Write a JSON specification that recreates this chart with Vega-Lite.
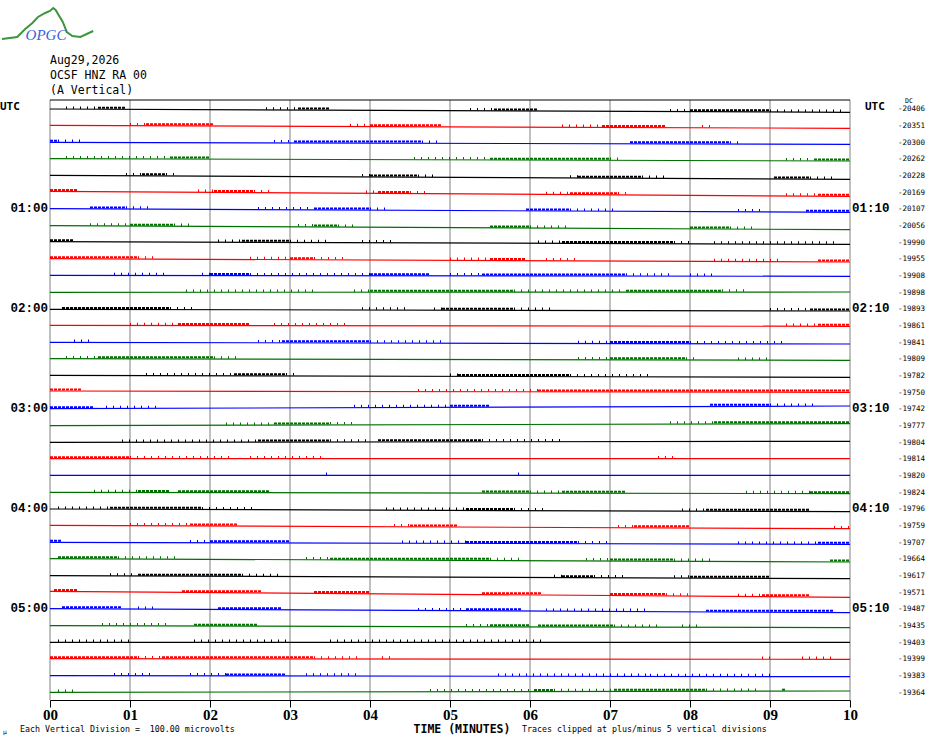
{
  "$schema": "https://vega.github.io/schema/vega-lite/v6.json",
  "width": 800,
  "height": 600,
  "autosize": "none",
  "padding": {"left": 50, "top": 100, "right": 80, "bottom": 44},
  "background": "white",
  "data": {"values": [{"one": 1}]},
  "datasets": {
    "minutes": [
      {"m": 0}, {"m": 1}, {"m": 2}, {"m": 3}, {"m": 4}, {"m": 5},
      {"m": 6}, {"m": 7}, {"m": 8}, {"m": 9}, {"m": 10}
    ],
    "logo": [
      {"i": 0, "x": -0.6, "y": -4.16},
      {"i": 1, "x": -0.41, "y": -4.28},
      {"i": 2, "x": -0.31, "y": -4.76},
      {"i": 3, "x": -0.22, "y": -5.12},
      {"i": 4, "x": -0.15, "y": -5.48},
      {"i": 5, "x": -0.06, "y": -5.72},
      {"i": 6, "x": 0.0, "y": -5.84},
      {"i": 7, "x": 0.04, "y": -6.02},
      {"i": 8, "x": 0.07, "y": -5.9},
      {"i": 9, "x": 0.16, "y": -5.18},
      {"i": 10, "x": 0.21, "y": -4.58},
      {"i": 11, "x": 0.28, "y": -4.34},
      {"i": 12, "x": 0.38, "y": -4.28},
      {"i": 13, "x": 0.54, "y": -4.64}
    ],
    "traces": [
      {"r": 0, "c": "k", "v": "-20406"},
      {"r": 1, "c": "r", "v": "-20351"},
      {"r": 2, "c": "b", "v": "-20300"},
      {"r": 3, "c": "g", "v": "-20262"},
      {"r": 4, "c": "k", "v": "-20228"},
      {"r": 5, "c": "r", "v": "-20169"},
      {"r": 6, "c": "b", "v": "-20107", "lh": "01:00", "rh": "01:10"},
      {"r": 7, "c": "g", "v": "-20056"},
      {"r": 8, "c": "k", "v": "-19990"},
      {"r": 9, "c": "r", "v": "-19955"},
      {"r": 10, "c": "b", "v": "-19908"},
      {"r": 11, "c": "g", "v": "-19898"},
      {"r": 12, "c": "k", "v": "-19893", "lh": "02:00", "rh": "02:10"},
      {"r": 13, "c": "r", "v": "-19861"},
      {"r": 14, "c": "b", "v": "-19841"},
      {"r": 15, "c": "g", "v": "-19809"},
      {"r": 16, "c": "k", "v": "-19782"},
      {"r": 17, "c": "r", "v": "-19750"},
      {"r": 18, "c": "b", "v": "-19742", "lh": "03:00", "rh": "03:10"},
      {"r": 19, "c": "g", "v": "-19777"},
      {"r": 20, "c": "k", "v": "-19804"},
      {"r": 21, "c": "r", "v": "-19814"},
      {"r": 22, "c": "b", "v": "-19820"},
      {"r": 23, "c": "g", "v": "-19824"},
      {"r": 24, "c": "k", "v": "-19796", "lh": "04:00", "rh": "04:10"},
      {"r": 25, "c": "r", "v": "-19759"},
      {"r": 26, "c": "b", "v": "-19707"},
      {"r": 27, "c": "g", "v": "-19664"},
      {"r": 28, "c": "k", "v": "-19617"},
      {"r": 29, "c": "r", "v": "-19571"},
      {"r": 30, "c": "b", "v": "-19487", "lh": "05:00", "rh": "05:10"},
      {"r": 31, "c": "g", "v": "-19435"},
      {"r": 32, "c": "k", "v": "-19403"},
      {"r": 33, "c": "r", "v": "-19399"},
      {"r": 34, "c": "b", "v": "-19383"},
      {"r": 35, "c": "g", "v": "-19364"}
    ],
    "ends": [
      {"r": 0, "c": "k", "t": 0, "lv": 0.04}, {"r": 0, "c": "k", "t": 10, "lv": 0.24},
      {"r": 1, "c": "r", "t": 0, "lv": 1.02}, {"r": 1, "c": "r", "t": 10, "lv": 1.2},
      {"r": 2, "c": "b", "t": 0, "lv": 2.04}, {"r": 2, "c": "b", "t": 10, "lv": 2.16},
      {"r": 3, "c": "g", "t": 0, "lv": 3.02}, {"r": 3, "c": "g", "t": 10, "lv": 3.16},
      {"r": 4, "c": "k", "t": 0, "lv": 4.02}, {"r": 4, "c": "k", "t": 10, "lv": 4.26},
      {"r": 5, "c": "r", "t": 0, "lv": 4.98}, {"r": 5, "c": "r", "t": 10, "lv": 5.28},
      {"r": 6, "c": "b", "t": 0, "lv": 6.02}, {"r": 6, "c": "b", "t": 10, "lv": 6.24},
      {"r": 7, "c": "g", "t": 0, "lv": 7.04}, {"r": 7, "c": "g", "t": 10, "lv": 7.28},
      {"r": 8, "c": "k", "t": 0, "lv": 8.0}, {"r": 8, "c": "k", "t": 10, "lv": 8.16},
      {"r": 9, "c": "r", "t": 0, "lv": 9.02}, {"r": 9, "c": "r", "t": 10, "lv": 9.22},
      {"r": 10, "c": "b", "t": 0, "lv": 10.02}, {"r": 10, "c": "b", "t": 10, "lv": 10.08},
      {"r": 11, "c": "g", "t": 0, "lv": 11.04}, {"r": 11, "c": "g", "t": 10, "lv": 11.02},
      {"r": 12, "c": "k", "t": 0, "lv": 12.06}, {"r": 12, "c": "k", "t": 10, "lv": 12.16},
      {"r": 13, "c": "r", "t": 0, "lv": 13.02}, {"r": 13, "c": "r", "t": 10, "lv": 13.08},
      {"r": 14, "c": "b", "t": 0, "lv": 14.04}, {"r": 14, "c": "b", "t": 10, "lv": 14.14},
      {"r": 15, "c": "g", "t": 0, "lv": 15.02}, {"r": 15, "c": "g", "t": 10, "lv": 15.12},
      {"r": 16, "c": "k", "t": 0, "lv": 16.02}, {"r": 16, "c": "k", "t": 10, "lv": 16.14},
      {"r": 17, "c": "r", "t": 0, "lv": 16.96}, {"r": 17, "c": "r", "t": 10, "lv": 17.04},
      {"r": 18, "c": "b", "t": 0, "lv": 18.02}, {"r": 18, "c": "b", "t": 10, "lv": 17.86},
      {"r": 19, "c": "g", "t": 0, "lv": 19.04}, {"r": 19, "c": "g", "t": 10, "lv": 18.92},
      {"r": 20, "c": "k", "t": 0, "lv": 20.04}, {"r": 20, "c": "k", "t": 10, "lv": 19.98},
      {"r": 21, "c": "r", "t": 0, "lv": 21.02}, {"r": 21, "c": "r", "t": 10, "lv": 21.02},
      {"r": 22, "c": "b", "t": 0, "lv": 22.02}, {"r": 22, "c": "b", "t": 10, "lv": 22.02},
      {"r": 23, "c": "g", "t": 0, "lv": 23.04}, {"r": 23, "c": "g", "t": 10, "lv": 23.12},
      {"r": 24, "c": "k", "t": 0, "lv": 24.04}, {"r": 24, "c": "k", "t": 10, "lv": 24.2},
      {"r": 25, "c": "r", "t": 0, "lv": 25.02}, {"r": 25, "c": "r", "t": 10, "lv": 25.22},
      {"r": 26, "c": "b", "t": 0, "lv": 26.04}, {"r": 26, "c": "b", "t": 10, "lv": 26.16},
      {"r": 27, "c": "g", "t": 0, "lv": 27.02}, {"r": 27, "c": "g", "t": 10, "lv": 27.22},
      {"r": 28, "c": "k", "t": 0, "lv": 28.04}, {"r": 28, "c": "k", "t": 10, "lv": 28.22},
      {"r": 29, "c": "r", "t": 0, "lv": 28.98}, {"r": 29, "c": "r", "t": 10, "lv": 29.34},
      {"r": 30, "c": "b", "t": 0, "lv": 30.02}, {"r": 30, "c": "b", "t": 10, "lv": 30.26},
      {"r": 31, "c": "g", "t": 0, "lv": 31.04}, {"r": 31, "c": "g", "t": 10, "lv": 31.16},
      {"r": 32, "c": "k", "t": 0, "lv": 32.04}, {"r": 32, "c": "k", "t": 10, "lv": 32.04},
      {"r": 33, "c": "r", "t": 0, "lv": 33.02}, {"r": 33, "c": "r", "t": 10, "lv": 33.06},
      {"r": 34, "c": "b", "t": 0, "lv": 34.04}, {"r": 34, "c": "b", "t": 10, "lv": 34.1},
      {"r": 35, "c": "g", "t": 0, "lv": 35.04}, {"r": 35, "c": "g", "t": 10, "lv": 34.96}
    ],
    "noise": [
      {"c": "k", "a": 0.2, "b": 0.6, "k": "s", "lv": 0.05},
      {"c": "k", "a": 0.6, "b": 0.95, "k": "d", "lv": 0.06},
      {"c": "k", "a": 2.7, "b": 3.1, "k": "s", "lv": 0.1},
      {"c": "k", "a": 3.1, "b": 3.5, "k": "d", "lv": 0.1},
      {"c": "k", "a": 5.25, "b": 5.55, "k": "s", "lv": 0.15},
      {"c": "k", "a": 5.55, "b": 6.1, "k": "d", "lv": 0.16},
      {"c": "k", "a": 7.75, "b": 8.0, "k": "s", "lv": 0.2},
      {"c": "k", "a": 8.0, "b": 9.0, "k": "d", "lv": 0.21},
      {"c": "k", "a": 9.0, "b": 9.9, "k": "s", "lv": 0.23},
      {"c": "r", "a": 1.0, "b": 1.2, "k": "s", "lv": 1.04},
      {"c": "r", "a": 1.2, "b": 2.05, "k": "d", "lv": 1.05},
      {"c": "r", "a": 3.75, "b": 4.0, "k": "s", "lv": 1.09},
      {"c": "r", "a": 4.0, "b": 4.9, "k": "d", "lv": 1.1},
      {"c": "r", "a": 6.4, "b": 6.9, "k": "s", "lv": 1.14},
      {"c": "r", "a": 6.9, "b": 7.7, "k": "d", "lv": 1.15},
      {"c": "r", "a": 8.15, "b": 8.25, "k": "s", "lv": 1.17},
      {"c": "b", "a": 0.0, "b": 0.1, "k": "d", "lv": 2.04},
      {"c": "b", "a": 0.1, "b": 0.4, "k": "s", "lv": 2.04},
      {"c": "b", "a": 2.8, "b": 3.05, "k": "s", "lv": 2.07},
      {"c": "b", "a": 3.05, "b": 4.65, "k": "d", "lv": 2.08},
      {"c": "b", "a": 4.65, "b": 4.85, "k": "s", "lv": 2.09},
      {"c": "b", "a": 7.25, "b": 8.5, "k": "d", "lv": 2.13},
      {"c": "b", "a": 8.5, "b": 8.6, "k": "s", "lv": 2.14},
      {"c": "g", "a": 0.2, "b": 1.5, "k": "s", "lv": 3.03},
      {"c": "g", "a": 1.5, "b": 2.0, "k": "d", "lv": 3.04},
      {"c": "g", "a": 4.55, "b": 5.5, "k": "s", "lv": 3.09},
      {"c": "g", "a": 5.5, "b": 7.0, "k": "d", "lv": 3.11},
      {"c": "g", "a": 7.0, "b": 7.15, "k": "s", "lv": 3.12},
      {"c": "g", "a": 9.2, "b": 9.55, "k": "s", "lv": 3.15},
      {"c": "g", "a": 9.55, "b": 10.0, "k": "d", "lv": 3.16},
      {"c": "k", "a": 0.95, "b": 1.15, "k": "s", "lv": 4.04},
      {"c": "k", "a": 1.15, "b": 1.45, "k": "d", "lv": 4.05},
      {"c": "k", "a": 1.45, "b": 1.6, "k": "s", "lv": 4.05},
      {"c": "k", "a": 3.9, "b": 4.0, "k": "s", "lv": 4.11},
      {"c": "k", "a": 4.0, "b": 4.6, "k": "d", "lv": 4.12},
      {"c": "k", "a": 4.6, "b": 4.85, "k": "s", "lv": 4.13},
      {"c": "k", "a": 6.5, "b": 6.6, "k": "s", "lv": 4.18},
      {"c": "k", "a": 6.6, "b": 7.4, "k": "d", "lv": 4.19},
      {"c": "k", "a": 7.4, "b": 7.7, "k": "s", "lv": 4.2},
      {"c": "k", "a": 9.05, "b": 9.5, "k": "d", "lv": 4.24},
      {"c": "k", "a": 9.5, "b": 9.8, "k": "s", "lv": 4.25},
      {"c": "r", "a": 0.0, "b": 0.35, "k": "d", "lv": 4.99},
      {"c": "r", "a": 1.85, "b": 2.05, "k": "s", "lv": 5.04},
      {"c": "r", "a": 2.05, "b": 2.55, "k": "d", "lv": 5.05},
      {"c": "r", "a": 2.55, "b": 2.8, "k": "s", "lv": 5.06},
      {"c": "r", "a": 3.95, "b": 4.1, "k": "s", "lv": 5.1},
      {"c": "r", "a": 4.1, "b": 4.5, "k": "d", "lv": 5.11},
      {"c": "r", "a": 4.5, "b": 4.7, "k": "s", "lv": 5.12},
      {"c": "r", "a": 6.2, "b": 6.5, "k": "s", "lv": 5.17},
      {"c": "r", "a": 6.5, "b": 7.1, "k": "d", "lv": 5.18},
      {"c": "r", "a": 7.1, "b": 7.2, "k": "s", "lv": 5.19},
      {"c": "r", "a": 9.2, "b": 9.6, "k": "s", "lv": 5.26},
      {"c": "r", "a": 9.6, "b": 10.0, "k": "d", "lv": 5.27},
      {"c": "b", "a": 0.5, "b": 0.95, "k": "d", "lv": 6.04},
      {"c": "b", "a": 0.95, "b": 1.3, "k": "s", "lv": 6.04},
      {"c": "b", "a": 2.6, "b": 3.3, "k": "s", "lv": 6.08},
      {"c": "b", "a": 3.3, "b": 4.0, "k": "d", "lv": 6.1},
      {"c": "b", "a": 4.0, "b": 4.2, "k": "s", "lv": 6.11},
      {"c": "b", "a": 5.95, "b": 6.5, "k": "d", "lv": 6.16},
      {"c": "b", "a": 6.5, "b": 7.1, "k": "s", "lv": 6.17},
      {"c": "b", "a": 8.6, "b": 8.9, "k": "s", "lv": 6.21},
      {"c": "b", "a": 9.45, "b": 10.0, "k": "d", "lv": 6.23},
      {"c": "g", "a": 0.5, "b": 1.0, "k": "s", "lv": 7.06},
      {"c": "g", "a": 1.0, "b": 1.55, "k": "d", "lv": 7.07},
      {"c": "g", "a": 1.55, "b": 1.8, "k": "s", "lv": 7.08},
      {"c": "g", "a": 3.1, "b": 3.3, "k": "s", "lv": 7.11},
      {"c": "g", "a": 3.3, "b": 3.6, "k": "d", "lv": 7.12},
      {"c": "g", "a": 3.6, "b": 3.8, "k": "s", "lv": 7.13},
      {"c": "g", "a": 5.5, "b": 6.0, "k": "d", "lv": 7.18},
      {"c": "g", "a": 6.0, "b": 6.5, "k": "s", "lv": 7.19},
      {"c": "g", "a": 8.0, "b": 8.5, "k": "d", "lv": 7.24},
      {"c": "g", "a": 8.5, "b": 8.85, "k": "s", "lv": 7.25},
      {"c": "k", "a": 0.0, "b": 0.3, "k": "d", "lv": 8.0},
      {"c": "k", "a": 2.1, "b": 2.4, "k": "s", "lv": 8.04},
      {"c": "k", "a": 2.4, "b": 3.0, "k": "d", "lv": 8.04},
      {"c": "k", "a": 3.0, "b": 3.5, "k": "s", "lv": 8.05},
      {"c": "k", "a": 3.9, "b": 4.3, "k": "s", "lv": 8.07},
      {"c": "k", "a": 6.1, "b": 6.4, "k": "s", "lv": 8.1},
      {"c": "k", "a": 6.4, "b": 7.8, "k": "d", "lv": 8.11},
      {"c": "k", "a": 7.8, "b": 8.0, "k": "s", "lv": 8.13},
      {"c": "k", "a": 8.3, "b": 9.8, "k": "s", "lv": 8.14},
      {"c": "r", "a": 0.0, "b": 1.1, "k": "d", "lv": 9.03},
      {"c": "r", "a": 1.1, "b": 1.3, "k": "s", "lv": 9.04},
      {"c": "r", "a": 2.5, "b": 3.0, "k": "s", "lv": 9.07},
      {"c": "r", "a": 3.0, "b": 3.3, "k": "d", "lv": 9.08},
      {"c": "r", "a": 3.3, "b": 3.7, "k": "s", "lv": 9.09},
      {"c": "r", "a": 5.0, "b": 5.5, "k": "s", "lv": 9.12},
      {"c": "r", "a": 5.5, "b": 5.95, "k": "d", "lv": 9.13},
      {"c": "r", "a": 6.2, "b": 6.6, "k": "s", "lv": 9.15},
      {"c": "r", "a": 8.3, "b": 9.1, "k": "s", "lv": 9.19},
      {"c": "r", "a": 9.6, "b": 10.0, "k": "d", "lv": 9.22},
      {"c": "b", "a": 0.8, "b": 1.5, "k": "s", "lv": 10.03},
      {"c": "b", "a": 1.9, "b": 2.0, "k": "s", "lv": 10.03},
      {"c": "b", "a": 2.0, "b": 2.5, "k": "d", "lv": 10.03},
      {"c": "b", "a": 2.5, "b": 4.0, "k": "s", "lv": 10.04},
      {"c": "b", "a": 4.0, "b": 4.75, "k": "d", "lv": 10.04},
      {"c": "b", "a": 5.0, "b": 5.4, "k": "s", "lv": 10.05},
      {"c": "b", "a": 5.4, "b": 7.2, "k": "d", "lv": 10.06},
      {"c": "b", "a": 7.2, "b": 7.8, "k": "s", "lv": 10.06},
      {"c": "b", "a": 8.0, "b": 8.3, "k": "s", "lv": 10.07},
      {"c": "g", "a": 1.7, "b": 3.3, "k": "s", "lv": 11.04},
      {"c": "g", "a": 3.8, "b": 4.0, "k": "s", "lv": 11.03},
      {"c": "g", "a": 4.0, "b": 5.8, "k": "d", "lv": 11.03},
      {"c": "g", "a": 5.8, "b": 7.2, "k": "s", "lv": 11.03},
      {"c": "g", "a": 7.2, "b": 8.4, "k": "d", "lv": 11.03},
      {"c": "g", "a": 8.4, "b": 8.7, "k": "s", "lv": 11.02},
      {"c": "k", "a": 0.15, "b": 1.5, "k": "d", "lv": 12.07},
      {"c": "k", "a": 1.5, "b": 1.85, "k": "s", "lv": 12.08},
      {"c": "k", "a": 3.9, "b": 4.5, "k": "s", "lv": 12.1},
      {"c": "k", "a": 4.8, "b": 4.9, "k": "s", "lv": 12.11},
      {"c": "k", "a": 4.9, "b": 5.8, "k": "d", "lv": 12.11},
      {"c": "k", "a": 5.8, "b": 6.3, "k": "s", "lv": 12.12},
      {"c": "k", "a": 9.0, "b": 9.5, "k": "s", "lv": 12.15},
      {"c": "k", "a": 9.5, "b": 10.0, "k": "d", "lv": 12.16},
      {"c": "r", "a": 1.0, "b": 1.6, "k": "s", "lv": 13.03},
      {"c": "r", "a": 1.6, "b": 2.5, "k": "d", "lv": 13.03},
      {"c": "r", "a": 2.8, "b": 3.7, "k": "s", "lv": 13.04},
      {"c": "r", "a": 9.2, "b": 9.6, "k": "s", "lv": 13.08},
      {"c": "r", "a": 9.6, "b": 10.0, "k": "d", "lv": 13.08},
      {"c": "b", "a": 0.3, "b": 0.5, "k": "s", "lv": 14.04},
      {"c": "b", "a": 2.6, "b": 2.9, "k": "s", "lv": 14.07},
      {"c": "b", "a": 2.9, "b": 4.0, "k": "d", "lv": 14.07},
      {"c": "b", "a": 4.0, "b": 4.95, "k": "s", "lv": 14.08},
      {"c": "b", "a": 6.6, "b": 7.0, "k": "s", "lv": 14.11},
      {"c": "b", "a": 7.0, "b": 8.0, "k": "d", "lv": 14.11},
      {"c": "b", "a": 8.0, "b": 9.2, "k": "s", "lv": 14.12},
      {"c": "g", "a": 0.2, "b": 0.6, "k": "s", "lv": 15.03},
      {"c": "g", "a": 0.6, "b": 2.05, "k": "d", "lv": 15.03},
      {"c": "g", "a": 2.05, "b": 2.4, "k": "s", "lv": 15.04},
      {"c": "g", "a": 6.6, "b": 7.0, "k": "s", "lv": 15.09},
      {"c": "g", "a": 7.0, "b": 7.95, "k": "d", "lv": 15.09},
      {"c": "g", "a": 7.95, "b": 8.1, "k": "s", "lv": 15.1},
      {"c": "g", "a": 8.6, "b": 9.0, "k": "s", "lv": 15.11},
      {"c": "k", "a": 1.2, "b": 2.3, "k": "s", "lv": 16.04},
      {"c": "k", "a": 2.3, "b": 2.95, "k": "d", "lv": 16.05},
      {"c": "k", "a": 2.95, "b": 3.1, "k": "s", "lv": 16.05},
      {"c": "k", "a": 5.0, "b": 5.1, "k": "s", "lv": 16.08},
      {"c": "k", "a": 5.1, "b": 6.5, "k": "d", "lv": 16.09},
      {"c": "k", "a": 6.5, "b": 7.5, "k": "s", "lv": 16.1},
      {"c": "r", "a": 0.0, "b": 0.4, "k": "d", "lv": 16.96},
      {"c": "r", "a": 4.6, "b": 6.1, "k": "s", "lv": 17.0},
      {"c": "r", "a": 6.1, "b": 10.0, "k": "d", "lv": 17.02},
      {"c": "b", "a": 0.0, "b": 0.55, "k": "d", "lv": 18.02},
      {"c": "b", "a": 0.7, "b": 1.4, "k": "s", "lv": 18.01},
      {"c": "b", "a": 3.8, "b": 5.0, "k": "s", "lv": 17.95},
      {"c": "b", "a": 5.0, "b": 5.5, "k": "d", "lv": 17.94},
      {"c": "b", "a": 8.25, "b": 9.0, "k": "d", "lv": 17.88},
      {"c": "b", "a": 9.0, "b": 9.6, "k": "s", "lv": 17.87},
      {"c": "g", "a": 2.2, "b": 2.8, "k": "s", "lv": 19.01},
      {"c": "g", "a": 2.8, "b": 3.5, "k": "d", "lv": 19.0},
      {"c": "g", "a": 3.5, "b": 3.8, "k": "s", "lv": 18.99},
      {"c": "g", "a": 7.75, "b": 8.3, "k": "s", "lv": 18.94},
      {"c": "g", "a": 8.3, "b": 10.0, "k": "d", "lv": 18.93},
      {"c": "k", "a": 0.9, "b": 2.6, "k": "s", "lv": 20.03},
      {"c": "k", "a": 2.6, "b": 3.5, "k": "d", "lv": 20.02},
      {"c": "k", "a": 3.5, "b": 3.95, "k": "s", "lv": 20.02},
      {"c": "k", "a": 4.1, "b": 5.4, "k": "d", "lv": 20.01},
      {"c": "k", "a": 5.4, "b": 6.4, "k": "s", "lv": 20.0},
      {"c": "r", "a": 0.0, "b": 1.0, "k": "d", "lv": 21.02},
      {"c": "r", "a": 1.0, "b": 2.3, "k": "s", "lv": 21.02},
      {"c": "r", "a": 2.5, "b": 3.4, "k": "s", "lv": 21.02},
      {"c": "r", "a": 7.6, "b": 7.8, "k": "s", "lv": 21.02},
      {"c": "b", "a": 3.45, "b": 3.5, "k": "s", "lv": 22.02},
      {"c": "b", "a": 5.85, "b": 5.9, "k": "s", "lv": 22.02},
      {"c": "g", "a": 0.55, "b": 1.1, "k": "s", "lv": 23.05},
      {"c": "g", "a": 1.1, "b": 1.5, "k": "d", "lv": 23.05},
      {"c": "g", "a": 1.6, "b": 2.75, "k": "d", "lv": 23.06},
      {"c": "g", "a": 5.4, "b": 6.0, "k": "d", "lv": 23.08},
      {"c": "g", "a": 6.0, "b": 6.4, "k": "s", "lv": 23.09},
      {"c": "g", "a": 6.4, "b": 7.2, "k": "d", "lv": 23.09},
      {"c": "g", "a": 8.7, "b": 9.5, "k": "s", "lv": 23.11},
      {"c": "g", "a": 9.5, "b": 10.0, "k": "d", "lv": 23.12},
      {"c": "k", "a": 0.1, "b": 0.75, "k": "s", "lv": 24.05},
      {"c": "k", "a": 0.75, "b": 1.9, "k": "d", "lv": 24.06},
      {"c": "k", "a": 1.9, "b": 2.6, "k": "s", "lv": 24.08},
      {"c": "k", "a": 4.2, "b": 5.2, "k": "s", "lv": 24.11},
      {"c": "k", "a": 5.2, "b": 5.8, "k": "d", "lv": 24.13},
      {"c": "k", "a": 5.8, "b": 6.2, "k": "s", "lv": 24.14},
      {"c": "k", "a": 7.9, "b": 8.2, "k": "s", "lv": 24.17},
      {"c": "k", "a": 8.2, "b": 9.5, "k": "d", "lv": 24.18},
      {"c": "r", "a": 1.0, "b": 1.75, "k": "s", "lv": 25.05},
      {"c": "r", "a": 1.75, "b": 2.35, "k": "d", "lv": 25.06},
      {"c": "r", "a": 4.3, "b": 4.5, "k": "s", "lv": 25.1},
      {"c": "r", "a": 4.5, "b": 5.1, "k": "d", "lv": 25.12},
      {"c": "r", "a": 7.1, "b": 7.3, "k": "s", "lv": 25.16},
      {"c": "r", "a": 7.3, "b": 8.0, "k": "d", "lv": 25.17},
      {"c": "r", "a": 9.8, "b": 10.0, "k": "s", "lv": 25.22},
      {"c": "b", "a": 0.0, "b": 0.15, "k": "d", "lv": 26.04},
      {"c": "b", "a": 1.75, "b": 2.0, "k": "s", "lv": 26.06},
      {"c": "b", "a": 2.0, "b": 3.0, "k": "d", "lv": 26.07},
      {"c": "b", "a": 4.4, "b": 5.2, "k": "s", "lv": 26.1},
      {"c": "b", "a": 5.2, "b": 6.6, "k": "d", "lv": 26.11},
      {"c": "b", "a": 6.6, "b": 7.0, "k": "s", "lv": 26.12},
      {"c": "b", "a": 8.6, "b": 9.6, "k": "s", "lv": 26.15},
      {"c": "b", "a": 9.6, "b": 10.0, "k": "d", "lv": 26.16},
      {"c": "g", "a": 0.1, "b": 0.85, "k": "d", "lv": 27.03},
      {"c": "g", "a": 0.85, "b": 1.6, "k": "s", "lv": 27.04},
      {"c": "g", "a": 3.2, "b": 3.5, "k": "s", "lv": 27.09},
      {"c": "g", "a": 3.5, "b": 5.5, "k": "d", "lv": 27.11},
      {"c": "g", "a": 5.5, "b": 5.9, "k": "s", "lv": 27.13},
      {"c": "g", "a": 6.7, "b": 7.0, "k": "s", "lv": 27.15},
      {"c": "g", "a": 7.0, "b": 7.8, "k": "d", "lv": 27.16},
      {"c": "g", "a": 7.8, "b": 8.3, "k": "s", "lv": 27.18},
      {"c": "g", "a": 9.75, "b": 10.0, "k": "d", "lv": 27.22},
      {"c": "k", "a": 0.75, "b": 1.1, "k": "s", "lv": 28.06},
      {"c": "k", "a": 1.1, "b": 2.4, "k": "d", "lv": 28.07},
      {"c": "k", "a": 2.4, "b": 2.9, "k": "s", "lv": 28.09},
      {"c": "k", "a": 6.3, "b": 6.4, "k": "s", "lv": 28.15},
      {"c": "k", "a": 6.4, "b": 6.8, "k": "d", "lv": 28.16},
      {"c": "k", "a": 6.8, "b": 7.2, "k": "s", "lv": 28.16},
      {"c": "k", "a": 7.8, "b": 8.0, "k": "s", "lv": 28.18},
      {"c": "k", "a": 8.0, "b": 9.0, "k": "d", "lv": 28.19},
      {"c": "r", "a": 0.05, "b": 0.35, "k": "d", "lv": 28.99},
      {"c": "r", "a": 1.65, "b": 2.65, "k": "d", "lv": 29.06},
      {"c": "r", "a": 3.3, "b": 4.0, "k": "d", "lv": 29.11},
      {"c": "r", "a": 5.4, "b": 6.15, "k": "d", "lv": 29.19},
      {"c": "r", "a": 7.0, "b": 7.7, "k": "d", "lv": 29.23},
      {"c": "r", "a": 7.7, "b": 8.0, "k": "s", "lv": 29.26},
      {"c": "r", "a": 8.6, "b": 8.9, "k": "s", "lv": 29.29},
      {"c": "r", "a": 8.9, "b": 9.5, "k": "d", "lv": 29.31},
      {"c": "b", "a": 0.15, "b": 0.9, "k": "d", "lv": 30.03},
      {"c": "b", "a": 1.1, "b": 1.35, "k": "s", "lv": 30.05},
      {"c": "b", "a": 2.1, "b": 2.9, "k": "d", "lv": 30.08},
      {"c": "b", "a": 4.6, "b": 5.2, "k": "s", "lv": 30.14},
      {"c": "b", "a": 5.2, "b": 5.9, "k": "d", "lv": 30.15},
      {"c": "b", "a": 6.2, "b": 7.5, "k": "s", "lv": 30.18},
      {"c": "b", "a": 8.2, "b": 9.8, "k": "d", "lv": 30.23},
      {"c": "g", "a": 0.65, "b": 1.5, "k": "s", "lv": 31.05},
      {"c": "g", "a": 1.8, "b": 2.6, "k": "d", "lv": 31.07},
      {"c": "g", "a": 5.2, "b": 5.5, "k": "s", "lv": 31.1},
      {"c": "g", "a": 5.5, "b": 6.0, "k": "d", "lv": 31.11},
      {"c": "g", "a": 6.1, "b": 7.05, "k": "d", "lv": 31.12},
      {"c": "g", "a": 7.05, "b": 7.6, "k": "s", "lv": 31.13},
      {"c": "g", "a": 7.9, "b": 8.1, "k": "s", "lv": 31.14},
      {"c": "k", "a": 0.1, "b": 1.0, "k": "s", "lv": 32.04},
      {"c": "k", "a": 1.8, "b": 3.0, "k": "s", "lv": 32.04},
      {"c": "k", "a": 3.5, "b": 6.2, "k": "s", "lv": 32.04},
      {"c": "r", "a": 0.0, "b": 1.1, "k": "d", "lv": 33.02},
      {"c": "r", "a": 1.1, "b": 1.4, "k": "s", "lv": 33.03},
      {"c": "r", "a": 1.4, "b": 3.3, "k": "d", "lv": 33.03},
      {"c": "r", "a": 3.3, "b": 3.85, "k": "s", "lv": 33.04},
      {"c": "r", "a": 4.15, "b": 4.25, "k": "s", "lv": 33.04},
      {"c": "r", "a": 8.9, "b": 9.0, "k": "s", "lv": 33.06},
      {"c": "r", "a": 9.4, "b": 9.8, "k": "s", "lv": 33.06},
      {"c": "b", "a": 0.8, "b": 1.3, "k": "s", "lv": 34.05},
      {"c": "b", "a": 1.75, "b": 2.2, "k": "s", "lv": 34.05},
      {"c": "b", "a": 2.2, "b": 2.95, "k": "d", "lv": 34.06},
      {"c": "b", "a": 3.2, "b": 3.9, "k": "s", "lv": 34.06},
      {"c": "b", "a": 5.6, "b": 7.5, "k": "s", "lv": 34.08},
      {"c": "b", "a": 7.5, "b": 9.0, "k": "s", "lv": 34.09},
      {"c": "g", "a": 0.1, "b": 0.3, "k": "s", "lv": 35.04},
      {"c": "g", "a": 4.75, "b": 6.05, "k": "s", "lv": 35.0},
      {"c": "g", "a": 6.05, "b": 6.3, "k": "d", "lv": 34.99},
      {"c": "g", "a": 6.3, "b": 7.05, "k": "s", "lv": 34.99},
      {"c": "g", "a": 7.05, "b": 8.2, "k": "d", "lv": 34.98},
      {"c": "g", "a": 8.2, "b": 8.9, "k": "s", "lv": 34.97},
      {"c": "g", "a": 9.15, "b": 9.2, "k": "d", "lv": 34.97}
    ]
  },
  "layer": [
    {
      "data": {"name": "minutes"},
      "mark": {"type": "rule", "color": "#808080", "strokeWidth": 1},
      "encoding": {
        "x": {
          "field": "m",
          "type": "quantitative",
          "scale": {"domain": [0, 10], "nice": false, "zero": false},
          "axis": {
            "values": [0, 0.5, 1, 1.5, 2, 2.5, 3, 3.5, 4, 4.5, 5, 5.5, 6, 6.5, 7, 7.5, 8, 8.5, 9, 9.5, 10],
            "labelExpr": "datum.value % 1 == 0 ? (datum.value < 10 ? '0' + datum.value : '' + datum.value) : ''",
            "title": null,
            "grid": false,
            "domainColor": "#000000",
            "domainWidth": 1,
            "tickColor": "#000000",
            "tickSize": 7,
            "tickWidth": 1,
            "labelFont": "Liberation Serif",
            "labelFontWeight": "bold",
            "labelFontSize": 15,
            "labelColor": "#000000",
            "labelPadding": 0,
            "labelFlush": false,
            "labelOverlap": false
          }
        }
      }
    },
    {
      "mark": {"type": "rule", "color": "#000000", "strokeWidth": 1},
      "encoding": {
        "y": {"datum": -0.5, "type": "quantitative", "scale": {"domain": [-0.5, 35.5], "nice": false, "zero": false, "reverse": true}, "axis": null}
      }
    },
    {
      "data": {"name": "ends"},
      "mark": {"type": "line", "strokeWidth": 1.2},
      "encoding": {
        "x": {"field": "t", "type": "quantitative"},
        "y": {"field": "lv", "type": "quantitative"},
        "detail": {"field": "r", "type": "nominal"},
        "color": {
          "field": "c",
          "type": "nominal",
          "scale": {"domain": ["k", "r", "b", "g"], "range": ["#000000", "#ff0000", "#0000ff", "#007000"]},
          "legend": null
        }
      }
    },
    {
      "data": {"name": "noise"},
      "transform": [{"filter": "datum.k == 'd'"}],
      "mark": {"type": "rule", "strokeWidth": 2, "yOffset": -1.5, "strokeDash": [3, 1]},
      "encoding": {
        "x": {"field": "a", "type": "quantitative"},
        "x2": {"field": "b"},
        "y": {"field": "lv", "type": "quantitative"},
        "color": {"field": "c", "type": "nominal", "legend": null}
      }
    },
    {
      "data": {"name": "noise"},
      "transform": [{"filter": "datum.k == 's'"}],
      "mark": {"type": "rule", "strokeWidth": 2.5, "yOffset": -1.5, "strokeDash": [1, 6]},
      "encoding": {
        "x": {"field": "a", "type": "quantitative"},
        "x2": {"field": "b"},
        "y": {"field": "lv", "type": "quantitative"},
        "color": {"field": "c", "type": "nominal", "legend": null}
      }
    },
    {
      "data": {"name": "traces"},
      "transform": [{"filter": "datum.lh"}],
      "mark": {"type": "text", "align": "right", "baseline": "middle", "dx": -2, "font": "Liberation Mono", "fontWeight": "bold", "fontSize": 12.5, "color": "#000000"},
      "encoding": {
        "x": {"datum": 0, "type": "quantitative"},
        "y": {"field": "r", "type": "quantitative"},
        "text": {"field": "lh", "type": "nominal"}
      }
    },
    {
      "data": {"name": "traces"},
      "transform": [{"filter": "datum.rh"}],
      "mark": {"type": "text", "align": "left", "baseline": "middle", "dx": 2, "font": "Liberation Mono", "fontWeight": "bold", "fontSize": 12.5, "color": "#000000"},
      "encoding": {
        "x": {"datum": 10, "type": "quantitative"},
        "y": {"field": "r", "type": "quantitative"},
        "text": {"field": "rh", "type": "nominal"}
      }
    },
    {
      "data": {"name": "traces"},
      "mark": {"type": "text", "align": "left", "baseline": "middle", "dx": 48, "dy": 1, "font": "DejaVu Sans Mono", "fontSize": 7.5, "color": "#000000"},
      "encoding": {
        "x": {"datum": 10, "type": "quantitative"},
        "y": {"field": "r", "type": "quantitative"},
        "text": {"field": "v", "type": "nominal"}
      }
    },
    {
      "mark": {"type": "text", "align": "left", "baseline": "middle", "dx": 0, "dy": -39, "font": "DejaVu Sans Mono", "fontSize": 11.5, "color": "#000000", "text": "Aug29,2026"},
      "encoding": {
        "x": {"datum": 0, "type": "quantitative"},
        "y": {"datum": -0.5, "type": "quantitative"}
      }
    },
    {
      "mark": {"type": "text", "align": "left", "baseline": "middle", "dx": 0, "dy": -24, "font": "DejaVu Sans Mono", "fontSize": 11.5, "color": "#000000", "text": "OCSF HNZ RA 00"},
      "encoding": {
        "x": {"datum": 0, "type": "quantitative"},
        "y": {"datum": -0.5, "type": "quantitative"}
      }
    },
    {
      "mark": {"type": "text", "align": "left", "baseline": "middle", "dx": 0, "dy": -9, "font": "DejaVu Sans Mono", "fontSize": 11.5, "color": "#000000", "text": "(A Vertical)"},
      "encoding": {
        "x": {"datum": 0, "type": "quantitative"},
        "y": {"datum": -0.5, "type": "quantitative"}
      }
    },
    {
      "mark": {"type": "text", "align": "left", "baseline": "middle", "dx": -50, "dy": -1, "font": "DejaVu Sans Mono", "fontWeight": "bold", "fontSize": 11, "color": "#000000", "text": "UTC"},
      "encoding": {
        "x": {"datum": 0, "type": "quantitative"},
        "y": {"datum": 0, "type": "quantitative"}
      }
    },
    {
      "mark": {"type": "text", "align": "left", "baseline": "middle", "dx": 15, "dy": -1, "font": "DejaVu Sans Mono", "fontWeight": "bold", "fontSize": 11, "color": "#000000", "text": "UTC"},
      "encoding": {
        "x": {"datum": 10, "type": "quantitative"},
        "y": {"datum": 0, "type": "quantitative"}
      }
    },
    {
      "mark": {"type": "text", "align": "left", "baseline": "middle", "dx": 55, "dy": -7, "font": "DejaVu Sans Mono", "fontSize": 6.5, "color": "#000000", "text": "DC"},
      "encoding": {
        "x": {"datum": 10, "type": "quantitative"},
        "y": {"datum": 0, "type": "quantitative"}
      }
    },
    {
      "mark": {"type": "text", "align": "center", "baseline": "middle", "dx": 12, "dy": 30, "font": "DejaVu Sans Mono", "fontWeight": "bold", "fontSize": 11.5, "color": "#000000", "text": "TIME (MINUTES)"},
      "encoding": {
        "x": {"datum": 5, "type": "quantitative"},
        "y": {"datum": 35.5, "type": "quantitative"}
      }
    },
    {
      "mark": {"type": "text", "align": "left", "baseline": "middle", "dx": 72, "dy": 30, "font": "DejaVu Sans Mono", "fontSize": 8.3, "color": "#000000", "text": "Traces clipped at plus/minus 5 vertical divisions"},
      "encoding": {
        "x": {"datum": 5, "type": "quantitative"},
        "y": {"datum": 35.5, "type": "quantitative"}
      }
    },
    {
      "mark": {"type": "text", "align": "left", "baseline": "middle", "dx": -30, "dy": 30, "font": "DejaVu Sans Mono", "fontSize": 8.3, "color": "#000000", "text": "Each Vertical Division = \u00a0100.00 microvolts"},
      "encoding": {
        "x": {"datum": 0, "type": "quantitative"},
        "y": {"datum": 35.5, "type": "quantitative"}
      }
    },
    {
      "mark": {"type": "text", "align": "left", "baseline": "middle", "dx": -47, "dy": 32, "font": "DejaVu Sans", "fontSize": 6, "color": "#000000", "text": "µ"},
      "encoding": {
        "x": {"datum": 0, "type": "quantitative"},
        "y": {"datum": 35.5, "type": "quantitative"}
      }
    },
    {
      "data": {"name": "logo"},
      "mark": {"type": "line", "color": "#3c963c", "strokeWidth": 2},
      "encoding": {
        "x": {"field": "x", "type": "quantitative"},
        "y": {"field": "y", "type": "quantitative"},
        "order": {"field": "i", "type": "quantitative"}
      }
    },
    {
      "mark": {"type": "text", "align": "center", "baseline": "middle", "font": "Liberation Serif", "fontStyle": "italic", "fontSize": 15, "color": "#3a62d6", "text": "OPGC"},
      "encoding": {
        "x": {"datum": -0.05, "type": "quantitative"},
        "y": {"datum": -4.4, "type": "quantitative"}
      }
    }
  ],
  "config": {
    "view": {"stroke": null}
  }
}
